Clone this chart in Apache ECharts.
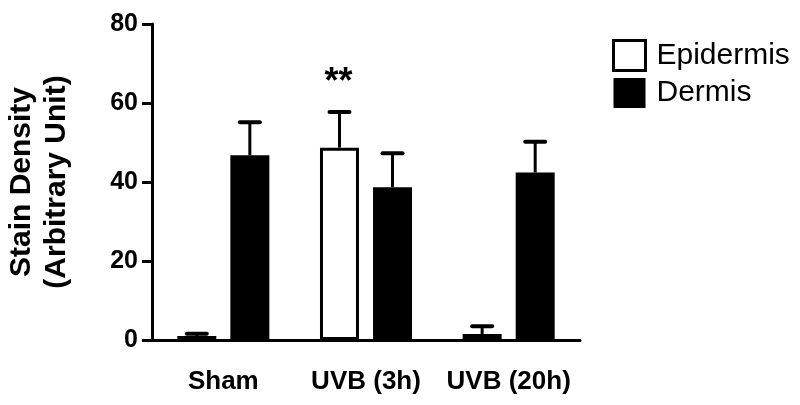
<!DOCTYPE html>
<html>
<head>
<meta charset="utf-8">
<script src="https://cdn.jsdelivr.net/npm/echarts@6/dist/echarts.min.js"></script>
<style>html,body{margin:0;padding:0;background:#fff;}#c{width:800px;height:405px;}</style>
</head>
<body>
<div id="c"></div>
<script>
const categories = ['Sham', 'UVB (3h)', 'UVB (20h)'];
const epidermis = [1.0, 48.7, 1.5];
const epidermisErr = [0.6, 9.0, 2.0];
const dermis = [46.8, 38.7, 42.4];
const dermisErr = [8.3, 8.6, 7.8];
const epidermisMarks = ['', '**', ''];
const yMin = 0, yMax = 80, yInterval = 20;

const FONT = "'Liberation Sans', Arial, Helvetica, sans-serif";
const BAR_W = 39;
const GAP_RATIO = 0.36;
const OFFSET = (BAR_W + BAR_W * GAP_RATIO) / 2;

function errData(vals, errs, marks) {
  return vals.map((v, i) => [i, v, errs[i], marks ? marks[i] : '']);
}

function makeErrRender(sign) {
  return function (params, api) {
    const i = api.value(0), v = api.value(1), e = api.value(2);
    const mark = errSets[params.seriesName][params.dataIndex][3];
    const base = api.coord([i, v]);
    const top = api.coord([i, v + e]);
    const x = base[0] + sign * OFFSET;
    const children = [
      { type: 'line', shape: { x1: x, y1: base[1], x2: x, y2: top[1] },
        style: { stroke: '#000', lineWidth: 3 } },
      { type: 'line', shape: { x1: x - 10, y1: top[1], x2: x + 10, y2: top[1] },
        style: { stroke: '#000', lineWidth: 4, lineCap: 'round' } }
    ];
    if (mark) {
      children.push({ type: 'text', x: x - 1, y: top[1] - 29,
        style: { text: mark, fill: '#000', font: 'bold 36px ' + FONT, align: 'center', verticalAlign: 'middle' } });
    }
    return { type: 'group', children: children };
  };
}

const errSets = {
  'epiErr': errData(epidermis, epidermisErr, epidermisMarks),
  'derErr': errData(dermis, dermisErr, null)
};

const chart = echarts.init(document.getElementById('c'));
chart.setOption({
  animation: false,
  backgroundColor: '#fff',
  grid: { left: 152, right: 220, top: 24, bottom: 65, containLabel: false, outerBoundsMode: 'none' },
  legend: {
    left: 607, top: 34, orient: 'vertical',
    itemWidth: 32, itemHeight: 30, itemGap: 6,
    textStyle: { fontFamily: FONT, fontSize: 30, color: '#000', padding: [0, 0, 0, 6] },
    data: [
      { name: 'Epidermis', icon: 'rect', itemStyle: { color: '#fff', borderColor: '#000', borderWidth: 3 } },
      { name: 'Dermis', icon: 'rect', itemStyle: { color: '#000', borderWidth: 0 } }
    ]
  },
  xAxis: {
    type: 'category', data: categories,
    axisLine: { lineStyle: { color: '#000', width: 3 } },
    axisTick: { alignWithLabel: true, length: 10, lineStyle: { color: '#000', width: 3 } },
    axisLabel: { fontFamily: FONT, fontWeight: 'bold', fontSize: 26, color: '#000', margin: 29, interval: 0, hideOverlap: false },
    splitLine: { show: false }
  },
  yAxis: {
    type: 'value', min: yMin, max: yMax, interval: yInterval,
    name: 'Stain Density\n(Arbitrary Unit)', nameLocation: 'middle', nameGap: 78,
    nameTextStyle: { fontFamily: FONT, fontWeight: 'bold', fontSize: 30, color: '#000', lineHeight: 35 },
    axisLine: { show: true, lineStyle: { color: '#000', width: 3 } },
    axisTick: { show: true, length: 10, lineStyle: { color: '#000', width: 3 } },
    axisLabel: { fontFamily: FONT, fontWeight: 'bold', fontSize: 25, color: '#000', margin: 14 },
    splitLine: { show: false }
  },
  series: [
    { name: 'Epidermis', type: 'bar', data: epidermis, barWidth: BAR_W, barGap: (GAP_RATIO * 100) + '%',
      itemStyle: { color: '#fff', borderColor: '#000', borderWidth: 3 } },
    { name: 'Dermis', type: 'bar', data: dermis, barWidth: BAR_W,
      itemStyle: { color: '#000' } },
    { name: 'epiErr', type: 'custom', data: errSets.epiErr, renderItem: makeErrRender(-1), z: 5,
      encode: { x: 0, y: 1 } },
    { name: 'derErr', type: 'custom', data: errSets.derErr, renderItem: makeErrRender(1), z: 5,
      encode: { x: 0, y: 1 } }
  ]
});
</script>
</body>
</html>
